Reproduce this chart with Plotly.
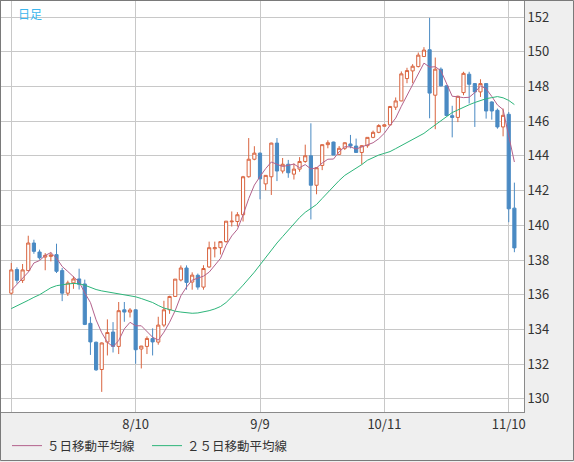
import plotly.graph_objects as go

# daily USD/JPY style candles, 7/11 - 11/11
dates = [
    "7/11", "7/12", "7/13", "7/14", "7/15", "7/18", "7/19", "7/20", "7/21", "7/22",
    "7/25", "7/26", "7/27", "7/28", "7/29",
    "8/1", "8/2", "8/3", "8/4", "8/5", "8/8", "8/9", "8/10", "8/11", "8/12",
    "8/15", "8/16", "8/17", "8/18", "8/19", "8/22", "8/23", "8/24", "8/25", "8/26",
    "8/29", "8/30", "8/31",
    "9/1", "9/2", "9/5", "9/6", "9/7", "9/8", "9/9", "9/12", "9/13", "9/14",
    "9/15", "9/16", "9/19", "9/20", "9/21", "9/22", "9/23", "9/26", "9/27", "9/28",
    "9/29", "9/30",
    "10/3", "10/4", "10/5", "10/6", "10/7", "10/10", "10/11", "10/12", "10/13", "10/14",
    "10/17", "10/18", "10/19", "10/20", "10/21", "10/24", "10/25", "10/26", "10/27", "10/28",
    "10/31",
    "11/1", "11/2", "11/3", "11/4", "11/7", "11/8", "11/9", "11/10", "11/11",
]

opens = [
    136.09, 137.45, 136.83, 137.39, 138.98, 138.46, 138.17, 138.21, 138.31, 137.39,
    136.09, 136.68, 136.91, 136.62, 134.35, 133.26, 131.69, 133.27, 133.85, 133.02,
    135.13, 135.00, 135.13, 132.87, 133.02, 133.47, 133.27, 134.25, 135.13, 135.90,
    136.85, 137.54, 136.73, 137.12, 136.44, 137.60, 138.65, 138.71, 139.06, 140.20,
    140.22, 140.61, 142.80, 143.81, 144.16, 142.39, 142.80, 144.74, 143.13, 143.52,
    142.95, 143.24, 143.68, 144.01, 142.31, 143.45, 144.65, 144.80, 144.09, 144.44,
    144.69, 144.57, 144.20, 144.59, 145.07, 145.36, 145.71, 145.79, 146.81, 147.17,
    148.46, 148.90, 149.15, 149.73, 150.12, 147.50, 149.00, 148.04, 146.32, 146.22,
    147.65, 148.71, 148.17, 147.69, 148.17, 147.11, 146.63, 145.67, 146.40, 140.99,
]
highs = [
    137.83, 137.58, 137.77, 139.40, 139.17, 138.60, 138.40, 138.44, 138.94, 137.54,
    136.81, 137.06, 137.50, 136.87, 134.73, 133.30, 133.25, 134.58, 134.42, 135.58,
    135.58, 135.23, 135.15, 133.05, 133.60, 134.06, 134.73, 135.65, 135.94, 136.90,
    137.69, 137.69, 137.29, 137.22, 137.70, 139.06, 139.06, 139.06, 140.24, 140.80,
    140.76, 142.85, 145.03, 144.56, 144.20, 142.90, 144.76, 145.03, 143.88, 143.77,
    143.57, 143.93, 144.65, 145.88, 143.35, 144.65, 144.90, 144.82, 144.57, 144.78,
    145.21, 145.00, 144.63, 145.07, 145.46, 145.83, 145.83, 146.88, 147.37, 148.87,
    149.08, 149.29, 149.96, 150.27, 151.96, 149.67, 149.10, 148.06, 146.89, 147.47,
    148.85, 148.85, 148.20, 148.42, 148.20, 147.15, 146.73, 146.73, 146.53, 142.46,
]
lows = [
    136.00, 136.64, 136.68, 137.39, 138.36, 138.02, 137.41, 137.92, 137.25, 135.63,
    135.93, 136.34, 136.30, 134.25, 132.53, 131.61, 130.40, 132.50, 132.67, 132.58,
    134.44, 134.69, 132.02, 131.75, 132.58, 132.50, 133.12, 134.13, 134.90, 135.90,
    136.77, 136.29, 136.29, 136.29, 136.29, 137.55, 138.15, 138.32, 139.00, 139.93,
    139.93, 140.22, 142.75, 143.75, 141.50, 142.02, 141.75, 142.55, 142.99, 142.74,
    142.64, 143.09, 143.60, 140.34, 141.79, 143.18, 144.44, 144.05, 144.05, 144.34,
    144.44, 144.20, 143.51, 144.47, 145.02, 145.31, 145.69, 145.75, 146.65, 147.15,
    148.19, 148.19, 149.10, 149.70, 146.17, 145.54, 148.00, 146.33, 145.07, 145.95,
    147.50, 147.02, 145.67, 147.40, 146.15, 146.09, 145.57, 145.13, 140.18, 138.45,
]
closes = [
    137.43, 136.83, 137.43, 138.98, 138.50, 138.13, 138.27, 138.29, 137.35, 136.09,
    136.68, 136.91, 136.60, 134.29, 133.28, 131.67, 133.22, 133.82, 133.02, 135.08,
    135.00, 135.12, 132.83, 133.04, 133.48, 133.28, 134.25, 135.13, 135.90, 136.90,
    137.54, 136.71, 137.13, 136.44, 137.51, 138.71, 138.71, 139.06, 140.24, 140.24,
    140.61, 142.80, 143.81, 144.16, 142.68, 142.88, 144.74, 143.13, 143.52, 143.03,
    143.24, 143.68, 144.01, 142.31, 143.32, 144.65, 144.76, 144.05, 144.44, 144.76,
    144.57, 144.20, 144.59, 145.07, 145.36, 145.75, 145.79, 146.85, 147.17, 148.73,
    148.92, 149.17, 149.81, 150.10, 147.62, 149.00, 148.04, 146.33, 146.22, 147.44,
    148.76, 148.13, 147.69, 148.17, 146.59, 146.59, 145.67, 146.34, 140.95, 138.70,
]

# moving averages
ma5 = [
    136.25, 136.60, 136.90, 137.30, 137.83, 137.97, 138.26, 138.43, 138.11, 137.63,
    137.34, 137.06, 136.73, 136.11, 135.55, 134.55, 133.81, 133.26, 133.00, 133.36,
    134.03, 134.41, 134.21, 134.21, 133.89, 133.55, 133.38, 133.84, 134.41, 135.09,
    135.94, 136.44, 136.84, 136.94, 137.07, 137.30, 137.70, 138.09, 138.85, 139.39,
    139.77, 140.59, 141.54, 142.32, 142.81, 143.27, 143.65, 143.52, 143.39, 143.46,
    143.53, 143.32, 143.50, 143.25, 143.31, 143.59, 143.81, 143.82, 144.24, 144.53,
    144.52, 144.40, 144.51, 144.64, 144.76, 144.99, 145.31, 145.76, 146.18, 146.86,
    147.49, 148.17, 148.76, 149.35, 149.12, 149.14, 148.91, 148.22, 147.44, 147.41,
    147.36, 147.38, 147.65, 148.04, 147.87, 147.43, 146.94, 146.67, 145.23, 143.65,
]
ma25 = [
    135.20, 135.35, 135.50, 135.68, 135.85, 136.00, 136.20, 136.40, 136.52, 136.58,
    136.62, 136.65, 136.63, 136.55, 136.42, 136.30, 136.22, 136.16, 136.12, 136.08,
    136.02, 135.95, 135.88, 135.78, 135.66, 135.55, 135.38, 135.23, 135.15, 135.05,
    135.00, 134.96, 134.93, 134.95, 135.00, 135.08, 135.18, 135.32, 135.55, 135.85,
    136.20, 136.55, 136.90, 137.30, 137.72, 138.15, 138.55, 138.98, 139.35, 139.72,
    140.05, 140.45, 140.75, 140.95, 141.20, 141.55, 141.90, 142.25, 142.58, 142.88,
    143.08, 143.28, 143.50, 143.75, 143.92, 144.05, 144.15, 144.25, 144.42, 144.60,
    144.78, 144.95, 145.15, 145.30, 145.55, 145.80, 146.05, 146.28, 146.50, 146.65,
    146.82, 146.95, 147.08, 147.20, 147.30, 147.36, 147.42, 147.35, 147.20, 146.96,
]

tick_dates = ["7/11", "8/10", "9/9", "10/11", "11/10"]
tick_text = ["", "8/10", "9/9", "10/11", "11/10"]
price_ticks = list(range(130, 153, 2))

UP = "#d9643f"
DOWN = "#4a8ac3"
FONT = "Noto Sans CJK JP"

fig = go.Figure()

fig.add_trace(
    go.Candlestick(
        x=dates,
        open=opens,
        high=highs,
        low=lows,
        close=closes,
        increasing=dict(line=dict(color=UP, width=1), fillcolor="white"),
        decreasing=dict(line=dict(color=DOWN, width=1), fillcolor=DOWN),
        whiskerwidth=0,
        showlegend=False,
    )
)
fig.add_trace(
    go.Scatter(
        x=dates, y=ma5, mode="lines", name="５日移動平均線",
        line=dict(color="#b3628c", width=1),
    )
)
fig.add_trace(
    go.Scatter(
        x=dates, y=ma25, mode="lines", name="２５日移動平均線",
        line=dict(color="#2db57a", width=1),
    )
)

# outer frame round the whole picture
fig.add_shape(
    type="rect", xref="paper", yref="paper",
    x0=-0.5 / 523, x1=572.5 / 523, y0=-48.5 / 411, y1=1 + 0.5 / 411,
    line=dict(color="#7a7a7a", width=1), fillcolor="rgba(0,0,0,0)", layer="above",
)

fig.add_annotation(
    text="日足", xref="paper", yref="paper", x=15 / 523, y=1 - 2 / 411,
    xanchor="left", yanchor="top", showarrow=False,
    font=dict(family=FONT, size=12, color="#3cb6ee"),
)

fig.update_layout(
    width=574,
    height=462,
    margin=dict(l=1, r=50, t=1, b=50, autoexpand=False),
    paper_bgcolor="#efefef",
    plot_bgcolor="white",
    font=dict(family=FONT, size=12, color="#333333"),
    boxgap=0.2,
    xaxis=dict(
        type="category",
        range=[-1.82, 90.7],
        tickmode="array",
        tickvals=tick_dates,
        ticktext=tick_text,
        showgrid=True,
        gridcolor="#c8c8c8",
        gridwidth=1,
        showline=True,
        mirror=True,
        linecolor="#8a8a8a",
        ticks="",
        rangeslider=dict(visible=False),
        tickfont=dict(family=FONT, size=13, color="#333333"),
        fixedrange=True,
    ),
    yaxis=dict(
        side="right",
        range=[129.24, 152.93],
        tickmode="array",
        tickvals=price_ticks,
        showgrid=True,
        gridcolor="#c8c8c8",
        gridwidth=1,
        showline=True,
        mirror=True,
        linecolor="#8a8a8a",
        ticks="",
        zeroline=False,
        tickfont=dict(family=FONT, size=13, color="#333333"),
    ),
    legend=dict(
        orientation="h",
        x=6 / 523,
        xanchor="left",
        y=-34 / 411,
        yanchor="middle",
        bgcolor="rgba(0,0,0,0)",
        font=dict(family=FONT, size=12.5, color="#333333"),
        itemwidth=30,
        entrywidth=95,
        entrywidthmode="pixels",
    ),
    showlegend=True,
)

# the page body has an 8px margin by default; drop it so the chart fills the window
fig.write_html(
    "out.html",
    config={"displayModeBar": False},
    post_script="document.body.style.margin='0';",
)
